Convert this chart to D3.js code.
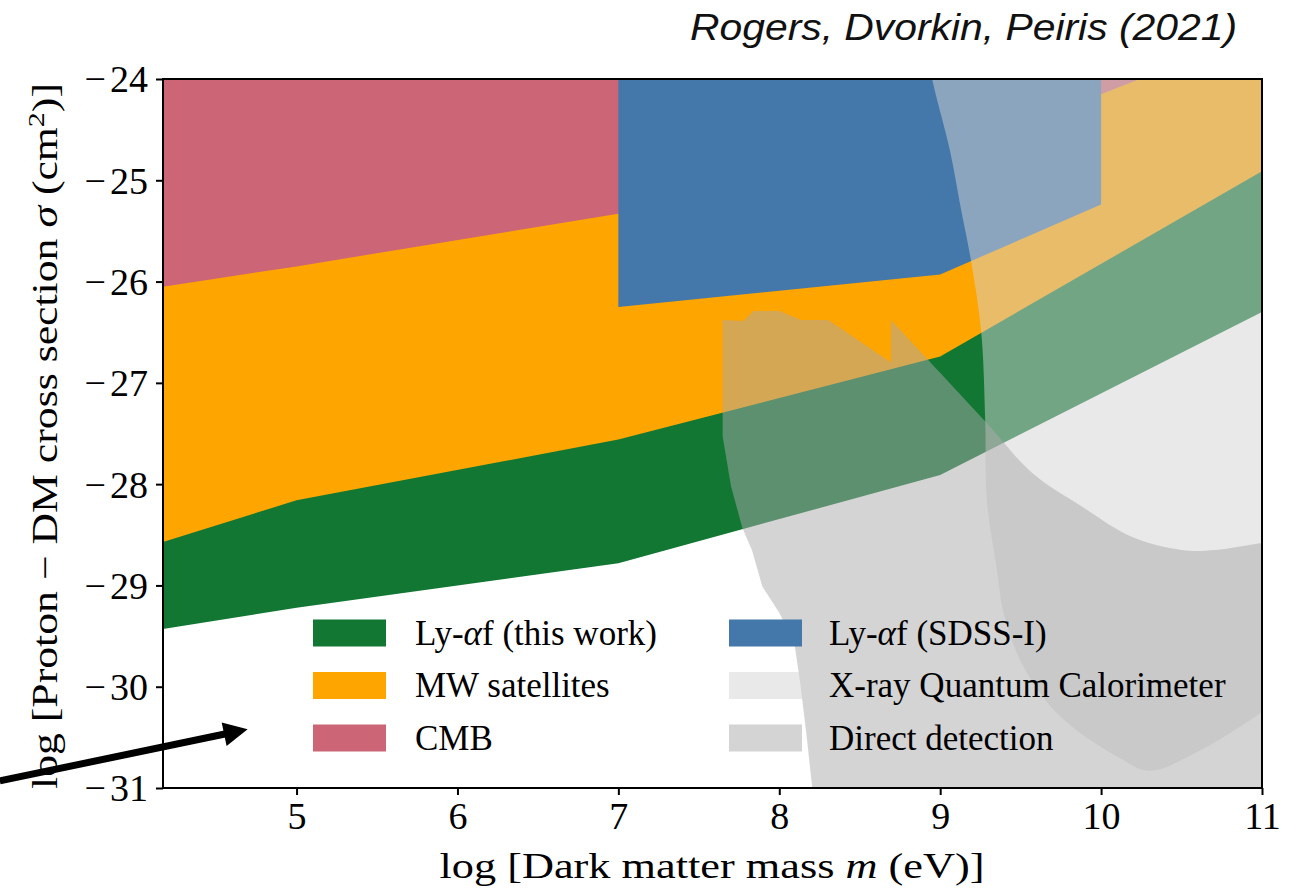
<!DOCTYPE html>
<html>
<head>
<meta charset="utf-8">
<script src="https://cdn.jsdelivr.net/npm/d3@7"></script>
<style>
  html, body { margin: 0; padding: 0; background: #fff; }
  svg { display: block; }
  .serif { font-family: "Liberation Serif", "Times New Roman", serif; fill: #000; }
</style>
</head>
<body>
<svg id="chart" width="1298" height="892"></svg>
<script>
// Axis extents (log10 of mass in eV, log10 of cross section in cm^2)
const xDomain = [4.17, 11];
const yDomain = [-31, -24];
const xTicks = [5, 6, 7, 8, 9, 10, 11];
const yTicks = [-24, -25, -26, -27, -28, -29, -30, -31];

// Lower edges of the excluded bands (each band fills up to the top of the plot)
const lyafThisWorkLower = [[4.17, -29.43], [5, -29.22], [7, -28.78], [9, -27.91], [11, -26.30]];
const mwSatellitesLower = [[4.17, -28.57], [5, -28.16], [7, -27.56], [9, -26.74], [11, -24.91]];
const cmbLower = [[4.17, -26.05], [5, -25.85], [7, -25.33], [10, -24.15], [10.24, -24.0], [11, -23.53]];

// Ly-alpha forest SDSS-I excluded box
const sdssOutline = [[7, -23.8], [7, -26.25], [9, -25.93], [10, -25.24], [10, -23.8]];

// X-ray Quantum Calorimeter: curved left/bottom edge, open towards the upper right
const xqcEdge = [[8.93, -23.8], [8.95, -24.0], [9.06, -24.70], [9.13, -25.29], [9.19, -25.78],
  [9.255, -26.50], [9.28, -27.38], [9.29, -28.16], [9.35, -28.82], [9.40, -29.31],
  [9.52, -29.81], [9.75, -30.30], [10.11, -30.70], [10.30, -30.83], [10.58, -30.66],
  [11.0, -30.25], [11.2, -30.0]];

// Direct detection: stepped upper edge, then a smooth upper-right edge, and the left edge
const ddTopSteps = [[7.648, -26.38], [7.777, -26.39], [7.84, -26.29], [8.0, -26.29], [8.135, -26.38],
  [8.305, -26.38], [8.694, -26.80], [8.694, -26.38]];
const ddTopCurve = [[8.694, -26.38], [9.28, -27.38], [9.572, -27.89], [9.88, -28.22], [10.19, -28.52],
  [10.50, -28.65], [10.71, -28.65], [11.0, -28.58], [11.2, -28.55]];
const ddLeftEdge = [[8.21, -31.2], [8.205, -31.0], [8.168, -30.46], [8.13, -29.96], [8.094, -29.57],
  [8.0, -29.27], [7.895, -29.01], [7.83, -28.65], [7.77, -28.43], [7.70, -28.02], [7.648, -27.53],
  [7.648, -26.38]];

// Legend entries
const legendLeft = [
  { label: ["Ly-", "α", "f (this work)"], color: "#117733", opacity: 1 },
  { label: ["MW satellites"], color: "#ffa500", opacity: 1 },
  { label: ["CMB"], color: "#cc6677", opacity: 1 }
];
const legendRight = [
  { label: ["Ly-", "α", "f (SDSS-I)"], color: "#4477aa", opacity: 1 },
  { label: ["X-ray Quantum Calorimeter"], color: "#d3d3d3", opacity: 0.5 },
  { label: ["Direct detection"], color: "#a9a9a9", opacity: 0.5 }
];

// Arrow annotation pointing into the open parameter space (data coordinates)
const arrowTail = [3.156, -30.93];
const arrowHead = [4.696, -30.42];

const svg = d3.select("#chart");
const margin = { left: 163, top: 79, right: 1298 - 1262, bottom: 892 - 788 };
const W = 1298 - margin.left - margin.right;
const H = 892 - margin.top - margin.bottom;

const x = d3.scaleLinear().domain(xDomain).range([0, W]);
const y = d3.scaleLinear().domain(yDomain).range([H, 0]);

const g = svg.append("g").attr("transform", `translate(${margin.left},${margin.top})`);

g.append("defs").append("clipPath").attr("id", "plotClip")
  .append("rect").attr("x", 0).attr("y", 0).attr("width", W).attr("height", H);

const plot = g.append("g").attr("clip-path", "url(#plotClip)");

const lin = d3.line().x(d => x(d[0])).y(d => y(d[1]));
const smooth = d3.line().x(d => x(d[0])).y(d => y(d[1])).curve(d3.curveCatmullRom.alpha(0.5));
const topY = -23.5;

// Band polygon: lower edge, then up to the top of the plot
function bandPath(lower) {
  const pts = lower.concat([[lower[lower.length - 1][0], topY], [lower[0][0], topY]]);
  return lin(pts) + "Z";
}

plot.append("path").attr("d", bandPath(lyafThisWorkLower)).attr("fill", "#117733");
plot.append("path").attr("d", bandPath(mwSatellitesLower)).attr("fill", "#ffa500");
plot.append("path").attr("d", bandPath(cmbLower)).attr("fill", "#cc6677");
plot.append("path").attr("d", lin(sdssOutline) + "Z").attr("fill", "#4477aa");

// X-ray Quantum Calorimeter region
const xqcD = smooth(xqcEdge) + "L" + x(11.2) + "," + y(topY) + "Z";
plot.append("path").attr("d", xqcD).attr("fill", "#d3d3d3").attr("fill-opacity", 0.5);

// Direct detection region
const ddD = lin(ddTopSteps) +
  smooth(ddTopCurve).replace(/^M/, "L") +
  "L" + x(11.2) + "," + y(-31.2) +
  lin(ddLeftEdge).replace(/^M/, "L") + "Z";
plot.append("path").attr("d", ddD).attr("fill", "#a9a9a9").attr("fill-opacity", 0.5);

// Axes
const xAxis = d3.axisBottom(x).tickValues(xTicks).tickSize(7).tickFormat(d3.format("d"));
const yAxis = d3.axisLeft(y).tickValues(yTicks).tickSize(7).tickFormat(() => "");

const gx = g.append("g").attr("transform", `translate(0,${H})`).call(xAxis);
const gy = g.append("g").call(yAxis);
[gx, gy].forEach(a => {
  a.select(".domain").remove();
  a.selectAll(".tick line").attr("stroke", "#000").attr("stroke-width", 2);
  a.selectAll(".tick text").attr("class", "serif").attr("font-size", 38);
});
gx.selectAll(".tick text").attr("y", 14).attr("dy", "0.71em");

// y tick labels: wide math minus followed by the digits
gy.selectAll(".tick text").each(function(d) {
  const t = d3.select(this).attr("x", -15).attr("dy", "0.34em");
  t.append("tspan").text("\u2212");
  t.append("tspan").attr("dx", 4).text(Math.abs(d));
});

// Frame
g.append("rect").attr("x", 0).attr("y", 0).attr("width", W).attr("height", H)
  .attr("fill", "none").attr("stroke", "#000").attr("stroke-width", 2);

// Legend
function drawLegend(items, px, tx) {
  items.forEach((it, i) => {
    const cy = 633 + i * 52.5;
    svg.append("rect").attr("x", px).attr("y", cy - 13.5).attr("width", 73).attr("height", 27)
      .attr("fill", it.color).attr("fill-opacity", it.opacity);
    const t = svg.append("text").attr("class", "serif").attr("x", tx).attr("y", cy + 11.5)
      .attr("font-size", 35);
    it.label.forEach(part => {
      const s = t.append("tspan").text(part);
      if (part === "α") s.attr("font-style", "italic");
    });
  });
}
drawLegend(legendLeft, 313, 415);
drawLegend(legendRight, 729, 829);

// Axis titles
const xt = svg.append("text").attr("class", "serif").attr("x", 712).attr("y", 878)
  .attr("text-anchor", "middle").attr("font-size", 35)
  .attr("textLength", 545).attr("lengthAdjust", "spacingAndGlyphs");
xt.append("tspan").text("log [Dark matter mass ");
xt.append("tspan").attr("font-style", "italic").text("m");
xt.append("tspan").text(" (eV)]");

const yt = svg.append("text").attr("class", "serif")
  .attr("transform", "translate(57,436) rotate(-90)")
  .attr("text-anchor", "middle").attr("font-size", 35)
  .attr("textLength", 706).attr("lengthAdjust", "spacingAndGlyphs");
yt.append("tspan").text("log [Proton \u2212 DM cross section ");
yt.append("tspan").attr("font-style", "italic").text("σ");
yt.append("tspan").text(" (cm");
yt.append("tspan").attr("baseline-shift", "super").attr("font-size", 24).text("2");
yt.append("tspan").text(")]");

// Citation
svg.append("text").attr("x", 1237).attr("y", 40).attr("text-anchor", "end")
  .attr("font-family", "'Liberation Sans', Arial, sans-serif").attr("font-style", "italic")
  .attr("font-size", 36).attr("fill", "#111")
  .attr("textLength", 547).attr("lengthAdjust", "spacingAndGlyphs")
  .text("Rogers, Dvorkin, Peiris (2021)");

// Arrow
const ax0 = margin.left + x(arrowTail[0]), ay0 = margin.top + y(arrowTail[1]);
const ax1 = margin.left + x(arrowHead[0]), ay1 = margin.top + y(arrowHead[1]);
const ang = Math.atan2(ay1 - ay0, ax1 - ax0);
const headLen = 24, headHalf = 12;
const bx = ax1 - headLen * Math.cos(ang), by = ay1 - headLen * Math.sin(ang);
svg.append("line").attr("x1", ax0).attr("y1", ay0)
  .attr("x2", bx + 2 * Math.cos(ang)).attr("y2", by + 2 * Math.sin(ang))
  .attr("stroke", "#000").attr("stroke-width", 7);
svg.append("path").attr("fill", "#000").attr("d",
  `M${ax1},${ay1}L${bx + headHalf * Math.sin(ang)},${by - headHalf * Math.cos(ang)}` +
  `L${bx - headHalf * Math.sin(ang)},${by + headHalf * Math.cos(ang)}Z`);
</script>
</body>
</html>
